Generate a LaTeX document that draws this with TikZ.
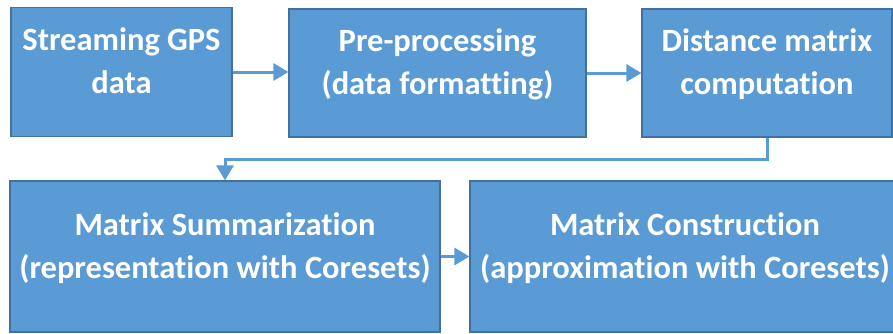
\documentclass[tikz,border=0pt]{standalone}
\usepackage{fontspec}
\setmainfont{Carlito}[Ligatures=NoCommon]
\usetikzlibrary{arrows.meta}
\definecolor{boxblue}{HTML}{5B9BD5}
\definecolor{edgeblue}{HTML}{41719C}

\begin{document}
\begin{tikzpicture}[x=1pt,y=-1pt,
  stage/.style={rectangle,draw=edgeblue,line width=1.2pt,fill=boxblue,text=white,
    font=\bfseries\fontsize{32.5}{43}\selectfont,align=center,text depth=22pt,inner sep=0pt},
  flow/.style={boxblue,line width=3pt,-{Triangle[length=15pt,width=17pt]}}]
\useasboundingbox (0,0) rectangle (893,333);
\node(gps)[stage,minimum width=221pt,minimum height=129pt] at (121.5,72){Streaming GPS\\data};
\node(prep)[stage,minimum width=297pt,minimum height=128pt] at (437.5,73){Pre-processing\\(data formatting)};
\node(dist)[stage,minimum width=250pt,minimum height=128pt] at (767,73){Distance matrix\\computation};
\node(summ)[stage,minimum width=430pt,minimum height=151pt] at (225,256.5){Matrix Summarization\\(representation with Coresets)};
\node(cons)[stage,minimum width=430pt,minimum height=151pt] at (685,256.5){Matrix Construction\\(approximation with Coresets)};
\path[draw,flow] (gps.east) -- (gps.east -| prep.west);
\path[draw,flow] (prep) -- (dist);
\path[draw,flow] (dist.south) -- ++(0,22) -| (summ.north);
\path[draw,flow] (summ) -- (cons);
\end{tikzpicture}
\end{document}
